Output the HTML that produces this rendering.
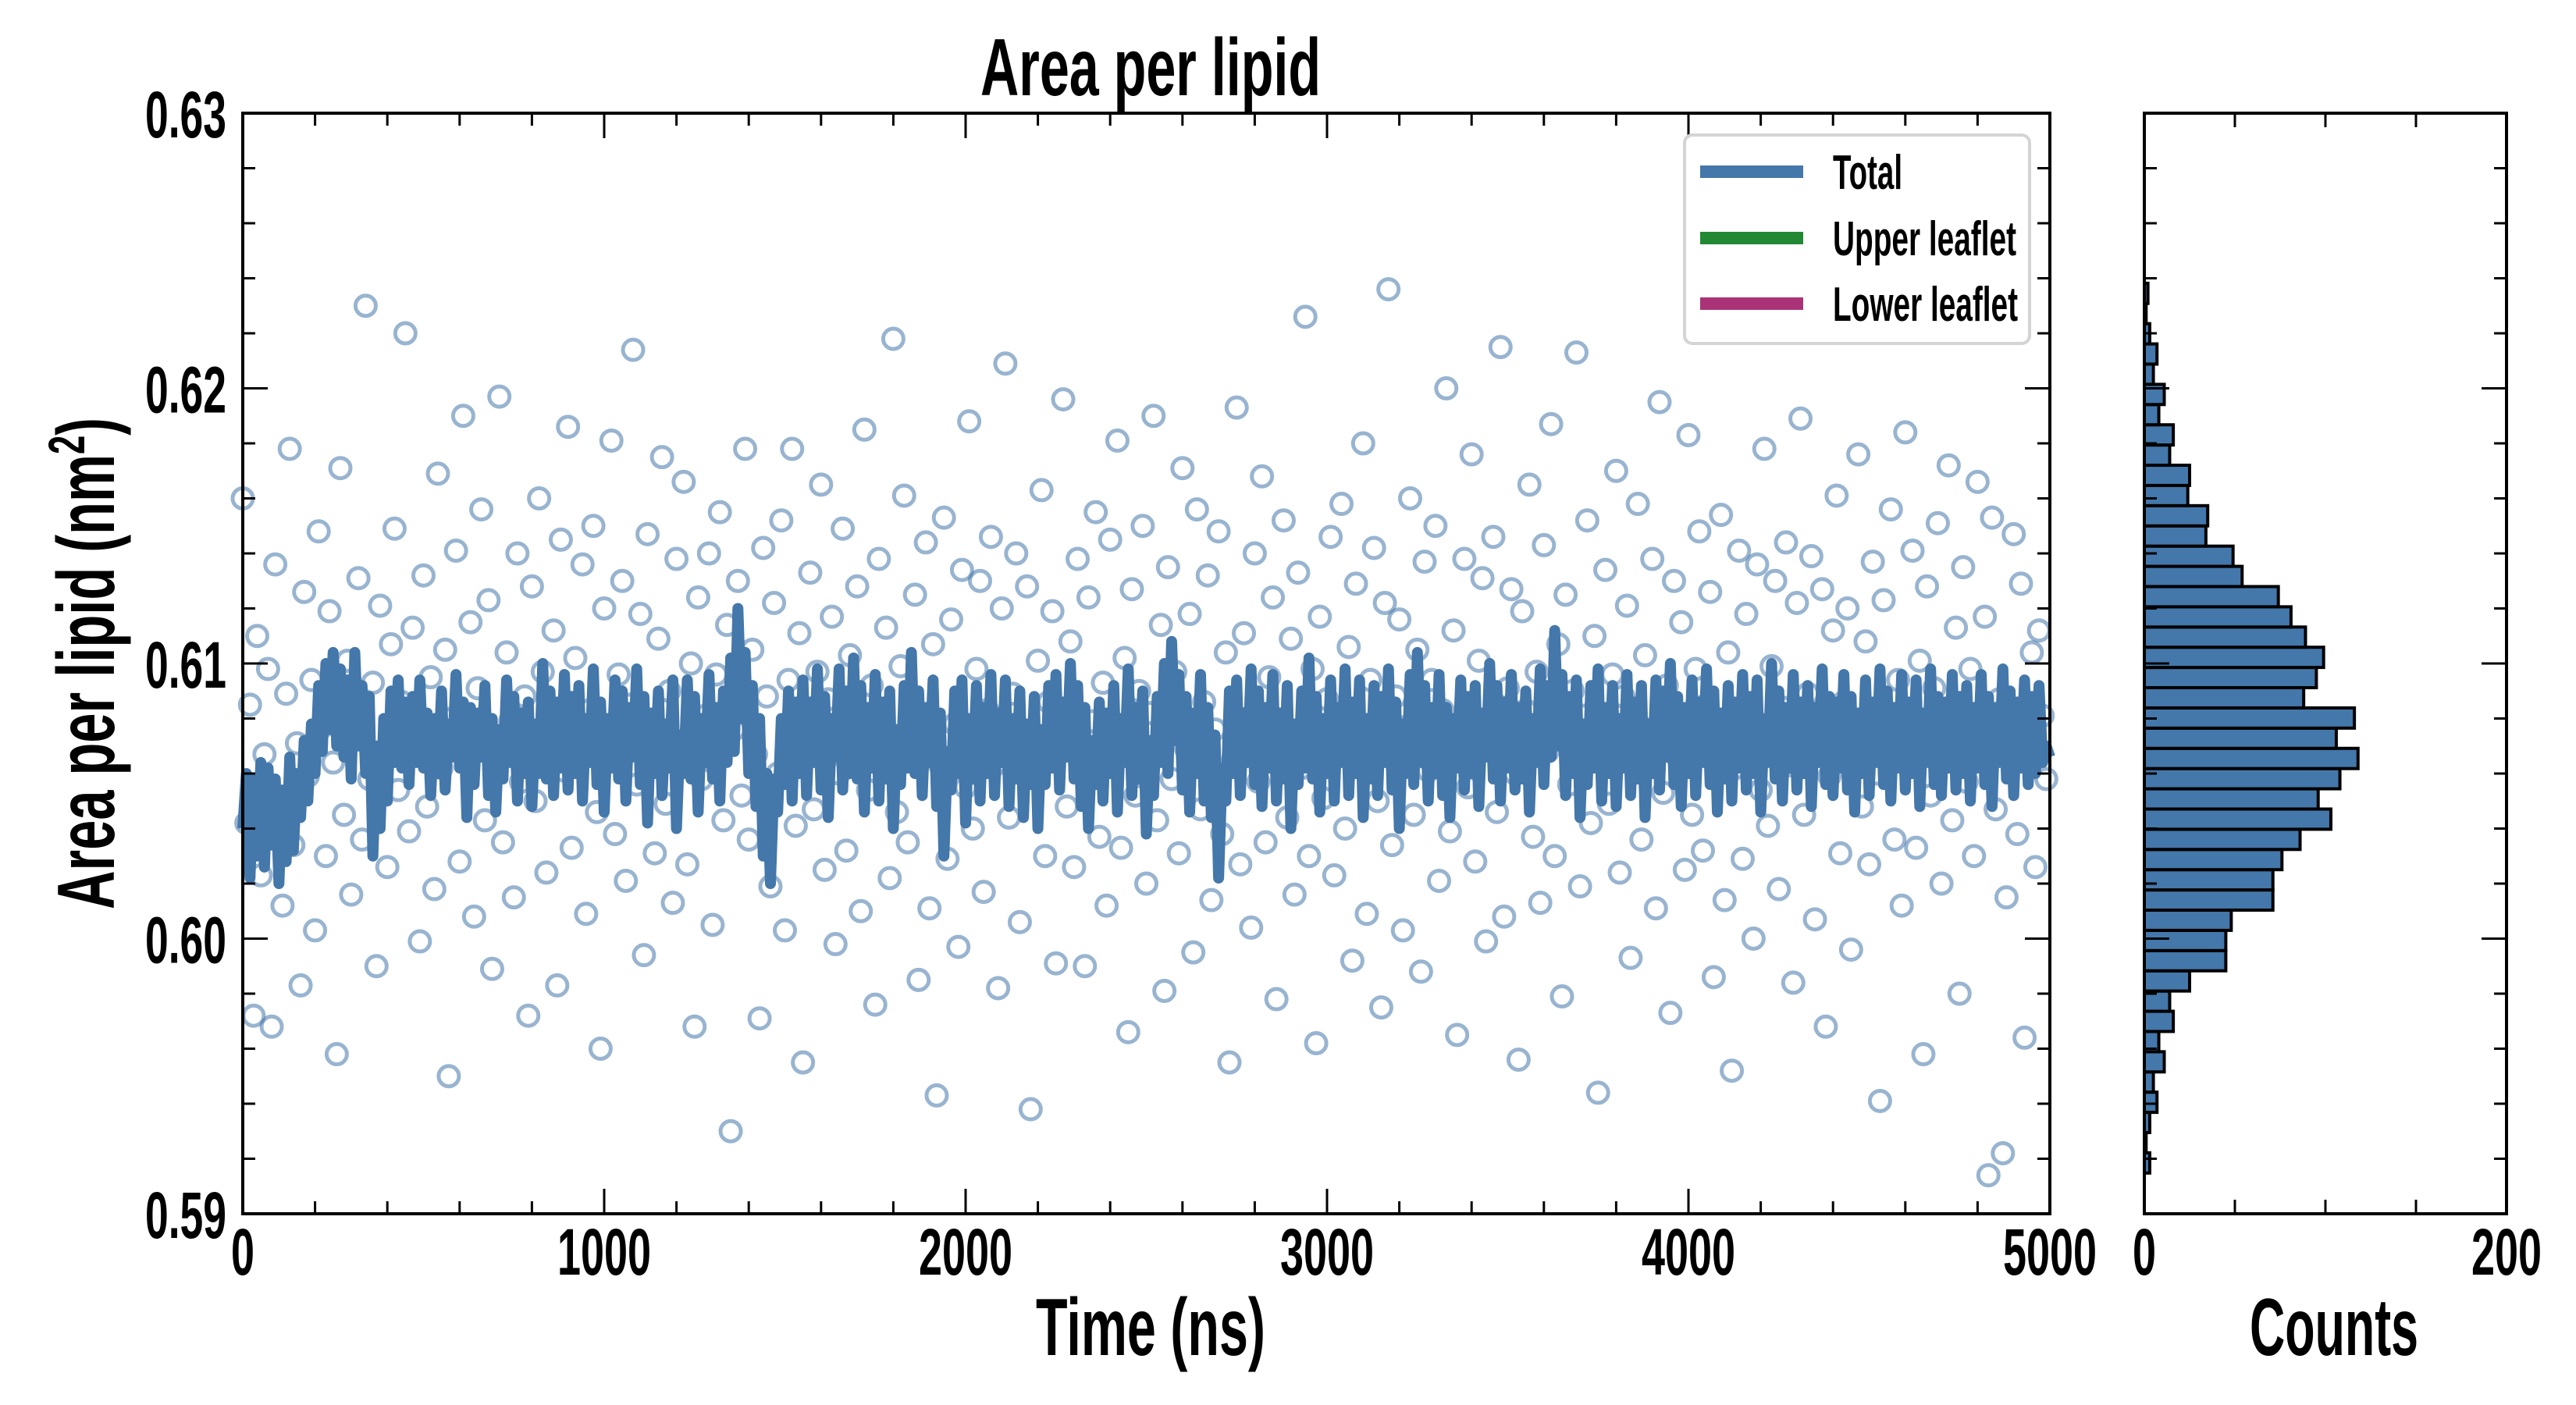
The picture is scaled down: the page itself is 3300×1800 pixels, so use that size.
<!DOCTYPE html>
<html><head><meta charset="utf-8"><title>Area per lipid</title>
<style>
html,body{margin:0;padding:0;background:#fff;}
svg{display:block;}
text{font-family:"Liberation Sans",sans-serif;font-weight:bold;fill:#000;}
</style></head>
<body>
<svg id="chart" width="3300" height="1800" viewBox="0 0 3300 1800" xmlns="http://www.w3.org/2000/svg">
<rect width="3300" height="1800" fill="#fff"/>
<g id="main-scatter"></g>
<g id="main-line"></g>
<g id="hist-bars"></g>
<g id="axes"></g>
<g id="legend">
  <rect x="2158" y="173" width="442" height="267" rx="10" fill="#fff" fill-opacity="0.85" stroke="#d4d4d4" stroke-width="4"/>
  <line x1="2178" y1="220" x2="2310" y2="220" stroke="#4477aa" stroke-width="16"/>
  <text x="2348" y="242" font-size="62" textLength="89" lengthAdjust="spacingAndGlyphs">Total</text>
  <line x1="2178" y1="305" x2="2310" y2="305" stroke="#228833" stroke-width="16"/>
  <text x="2348" y="327" font-size="62" textLength="235" lengthAdjust="spacingAndGlyphs">Upper leaflet</text>
  <line x1="2178" y1="389" x2="2310" y2="389" stroke="#aa3377" stroke-width="16"/>
  <text x="2348" y="411" font-size="62" textLength="237" lengthAdjust="spacingAndGlyphs">Lower leaflet</text>
</g>
<text x="1474" y="122" text-anchor="middle" font-size="104" textLength="436" lengthAdjust="spacingAndGlyphs">Area per lipid</text>
<text x="1474" y="1736" text-anchor="middle" font-size="104" textLength="294" lengthAdjust="spacingAndGlyphs">Time (ns)</text>
<text x="2990" y="1736" text-anchor="middle" font-size="104" textLength="216" lengthAdjust="spacingAndGlyphs">Counts</text>
<text transform="translate(146,850) rotate(-90)" text-anchor="middle" font-size="104" textLength="630" lengthAdjust="spacingAndGlyphs">Area per lipid (nm<tspan font-size="66" dy="-38">2</tspan><tspan dy="38">)</tspan></text>
</svg>
<script>
// ---- data ----
const xDomain = [0, 5000];
const yDomain = [0.59, 0.63];
const countDomain = [0, 200];
const xTickValues = [0, 1000, 2000, 3000, 4000, 5000];
const xTickLabels = ["0", "1000", "2000", "3000", "4000", "5000"];
const yTickValues = [0.59, 0.60, 0.61, 0.62, 0.63];
const yTickLabels = ["0.59", "0.60", "0.61", "0.62", "0.63"];
const countTickValues = [0, 50, 100, 150, 200];
const countTickLabels = ["0", "", "", "", "200"];
const lineStepNs = 10;
const totalLine = [
0.6040,0.6060,0.6022,0.6058,0.6030,0.6064,0.6026,0.6062,0.6034,0.6058,0.6020,0.6054,0.6028,0.6066,0.6032,0.6060,0.6044,0.6072,0.6050,0.6078,
0.6060,0.6092,0.6068,0.6100,0.6076,0.6104,0.6070,0.6098,0.6066,0.6094,0.6058,0.6104,0.6070,0.6092,0.6060,0.6088,0.6030,0.6070,0.6040,0.6080,
0.6050,0.6090,0.6064,0.6094,0.6062,0.6086,0.6056,0.6088,0.6064,0.6094,0.6062,0.6082,0.6052,0.6080,0.6060,0.6090,0.6054,0.6078,0.6066,0.6096,
0.6062,0.6086,0.6044,0.6084,0.6056,0.6082,0.6066,0.6092,0.6052,0.6080,0.6046,0.6076,0.6058,0.6094,0.6064,0.6088,0.6050,0.6082,0.6060,0.6086,
0.6048,0.6078,0.6060,0.6100,0.6058,0.6090,0.6052,0.6086,0.6062,0.6096,0.6054,0.6088,0.6060,0.6092,0.6050,0.6080,0.6064,0.6098,0.6056,0.6086,
0.6046,0.6080,0.6062,0.6094,0.6058,0.6090,0.6050,0.6084,0.6066,0.6098,0.6056,0.6088,0.6042,0.6082,0.6060,0.6090,0.6052,0.6078,0.6062,0.6094,
0.6040,0.6074,0.6060,0.6094,0.6058,0.6088,0.6046,0.6080,0.6064,0.6096,0.6058,0.6084,0.6050,0.6090,0.6064,0.6102,0.6068,0.6120,0.6080,0.6104,
0.6060,0.6092,0.6048,0.6080,0.6030,0.6060,0.6020,0.6058,0.6046,0.6080,0.6056,0.6090,0.6050,0.6086,0.6060,0.6094,0.6052,0.6086,0.6064,0.6098,
0.6054,0.6088,0.6044,0.6080,0.6066,0.6098,0.6054,0.6090,0.6060,0.6102,0.6058,0.6092,0.6046,0.6084,0.6062,0.6096,0.6050,0.6086,0.6058,0.6090,
0.6040,0.6076,0.6056,0.6092,0.6062,0.6104,0.6060,0.6090,0.6052,0.6084,0.6064,0.6094,0.6048,0.6082,0.6030,0.6068,0.6054,0.6090,0.6060,0.6094,
0.6042,0.6080,0.6058,0.6092,0.6050,0.6084,0.6060,0.6096,0.6052,0.6082,0.6064,0.6094,0.6048,0.6080,0.6058,0.6090,0.6044,0.6078,0.6056,0.6088,
0.6040,0.6076,0.6056,0.6092,0.6062,0.6096,0.6054,0.6086,0.6066,0.6100,0.6058,0.6092,0.6048,0.6084,0.6040,0.6072,0.6056,0.6086,0.6050,0.6082,
0.6060,0.6092,0.6046,0.6080,0.6064,0.6098,0.6052,0.6084,0.6058,0.6090,0.6038,0.6072,0.6052,0.6088,0.6064,0.6100,0.6060,0.6108,0.6072,0.6096,
0.6054,0.6088,0.6046,0.6082,0.6060,0.6096,0.6050,0.6084,0.6044,0.6074,0.6022,0.6062,0.6050,0.6090,0.6060,0.6094,0.6052,0.6082,0.6064,0.6098,
0.6056,0.6090,0.6048,0.6084,0.6062,0.6096,0.6050,0.6082,0.6058,0.6092,0.6040,0.6078,0.6056,0.6090,0.6062,0.6102,0.6058,0.6088,0.6046,0.6080,
0.6060,0.6094,0.6050,0.6084,0.6064,0.6098,0.6052,0.6086,0.6060,0.6094,0.6044,0.6080,0.6058,0.6092,0.6052,0.6088,0.6064,0.6098,0.6054,0.6086,
0.6040,0.6078,0.6060,0.6096,0.6056,0.6104,0.6064,0.6092,0.6050,0.6084,0.6060,0.6096,0.6052,0.6084,0.6044,0.6080,0.6062,0.6094,0.6054,0.6088,
0.6060,0.6092,0.6048,0.6082,0.6066,0.6100,0.6058,0.6092,0.6050,0.6086,0.6062,0.6096,0.6054,0.6084,0.6058,0.6090,0.6046,0.6080,0.6064,0.6098,
0.6056,0.6092,0.6066,0.6112,0.6070,0.6096,0.6052,0.6088,0.6060,0.6094,0.6044,0.6078,0.6056,0.6092,0.6062,0.6098,0.6050,0.6084,0.6060,0.6092,
0.6048,0.6080,0.6062,0.6096,0.6052,0.6086,0.6058,0.6092,0.6044,0.6078,0.6060,0.6094,0.6054,0.6090,0.6066,0.6100,0.6056,0.6088,0.6048,0.6084,
0.6060,0.6094,0.6052,0.6086,0.6064,0.6098,0.6056,0.6090,0.6046,0.6082,0.6058,0.6092,0.6050,0.6086,0.6062,0.6096,0.6054,0.6088,0.6060,0.6094,
0.6046,0.6080,0.6064,0.6100,0.6058,0.6090,0.6050,0.6084,0.6062,0.6096,0.6054,0.6086,0.6060,0.6092,0.6048,0.6084,0.6064,0.6098,0.6056,0.6088,
0.6052,0.6086,0.6062,0.6096,0.6054,0.6088,0.6046,0.6082,0.6060,0.6094,0.6052,0.6086,0.6064,0.6098,0.6056,0.6090,0.6050,0.6084,0.6062,0.6096,
0.6054,0.6086,0.6060,0.6094,0.6048,0.6082,0.6064,0.6098,0.6056,0.6088,0.6052,0.6086,0.6062,0.6096,0.6054,0.6088,0.6060,0.6092,0.6050,0.6084,
0.6062,0.6096,0.6056,0.6088,0.6048,0.6084,0.6064,0.6098,0.6058,0.6090,0.6052,0.6086,0.6062,0.6094,0.6056,0.6088,0.6060,0.6092,0.6064,0.6070,0.6066
];
const scatterValues = [
0.6160,0.6042,0.6085,0.5972,0.6110,0.6023,0.6067,0.6098,0.5968,0.6136,0.6051,0.6012,0.6089,0.6178,0.6034,0.6071,0.5983,0.6126,0.6059,0.6094,
0.6003,0.6148,0.6077,0.6030,0.6119,0.6064,0.5958,0.6171,0.6045,0.6101,0.6016,0.6082,0.6131,0.6036,0.6230,0.6058,0.6093,0.5990,0.6121,0.6068,
0.6026,0.6107,0.6149,0.6054,0.6086,0.6220,0.6039,0.6113,0.6074,0.5999,0.6132,0.6048,0.6095,0.6018,0.6169,0.6062,0.6105,0.5950,0.6080,0.6141,
0.6028,0.6190,0.6072,0.6115,0.6008,0.6091,0.6156,0.6043,0.6123,0.5989,0.6066,0.6197,0.6035,0.6104,0.6079,0.6015,0.6140,0.6057,0.6088,0.5972,
0.6128,0.6050,0.6160,0.6097,0.6024,0.6075,0.6112,0.5983,0.6145,0.6061,0.6186,0.6033,0.6102,0.6069,0.6136,0.6009,0.6083,0.6150,0.6046,0.5960,
0.6120,0.6073,0.6181,0.6038,0.6096,0.6130,0.6021,0.6085,0.6214,0.6056,0.6118,0.5994,0.6147,0.6064,0.6031,0.6109,0.6175,0.6049,0.6090,0.6013,
0.6138,0.6070,0.6166,0.6027,0.6100,0.5968,0.6124,0.6058,0.6081,0.6140,0.6005,0.6096,0.6155,0.6043,0.6114,0.5930,0.6076,0.6130,0.6052,0.6178,
0.6036,0.6105,0.6067,0.5971,0.6142,0.6088,0.6019,0.6122,0.6060,0.6152,0.6003,0.6094,0.6178,0.6041,0.6111,0.5955,0.6079,0.6133,0.6047,0.6097,
0.6165,0.6025,0.6087,0.6117,0.5998,0.6060,0.6149,0.6032,0.6103,0.6073,0.6128,0.6010,0.6185,0.6054,0.6092,0.5976,0.6138,0.6068,0.6113,0.6022,
0.6218,0.6046,0.6099,0.6161,0.6035,0.6084,0.6125,0.5985,0.6071,0.6144,0.6011,0.6107,0.5943,0.6063,0.6153,0.6029,0.6116,0.6078,0.5997,0.6134,
0.6055,0.6188,0.6040,0.6098,0.6130,0.6017,0.6083,0.6146,0.6063,0.5982,0.6120,0.6209,0.6044,0.6089,0.6140,0.6006,0.6075,0.6128,0.5938,0.6059,
0.6101,0.6163,0.6030,0.6086,0.6119,0.5991,0.6070,0.6196,0.6048,0.6108,0.6026,0.6138,0.6061,0.5990,0.6124,0.6079,0.6155,0.6037,0.6093,0.6012,
0.6145,0.6066,0.6181,0.6033,0.6102,0.5966,0.6127,0.6052,0.6090,0.6150,0.6020,0.6082,0.6190,0.6043,0.6114,0.5981,0.6135,0.6058,0.6097,0.6031,
0.6171,0.6069,0.6118,0.5995,0.6156,0.6047,0.6086,0.6132,0.6014,0.6076,0.6148,0.6038,0.6104,0.5955,0.6065,0.6193,0.6027,0.6111,0.6080,0.6004,
0.6140,0.6057,0.6168,0.6035,0.6095,0.6124,0.5978,0.6072,0.6152,0.6044,0.6109,0.6016,0.6133,0.6062,0.6226,0.6030,0.6098,0.5962,0.6117,0.6051,
0.6087,0.6146,0.6023,0.6079,0.6158,0.6040,0.6106,0.5992,0.6129,0.6067,0.6180,0.6009,0.6094,0.6142,0.6050,0.5975,0.6122,0.6236,0.6034,0.6088,
0.6116,0.6003,0.6077,0.6160,0.6045,0.6105,0.5988,0.6137,0.6061,0.6094,0.6150,0.6021,0.6083,0.6200,0.6039,0.6112,0.5965,0.6070,0.6138,0.6055,
0.6176,0.6028,0.6101,0.6131,0.5999,0.6074,0.6146,0.6046,0.6215,0.6008,0.6091,0.6127,0.6060,0.5956,0.6119,0.6083,0.6165,0.6037,0.6097,0.6013,
0.6143,0.6068,0.6187,0.6030,0.6107,0.5979,0.6125,0.6056,0.6090,0.6213,0.6019,0.6081,0.6152,0.6042,0.6110,0.5944,0.6073,0.6134,0.6049,0.6096,
0.6170,0.6024,0.6088,0.6121,0.5993,0.6064,0.6158,0.6036,0.6103,0.6076,0.6138,0.6011,0.6195,0.6053,0.6092,0.5973,0.6130,0.6066,0.6115,0.6025,
0.6183,0.6045,0.6098,0.6148,0.6032,0.6085,0.6126,0.5986,0.6071,0.6154,0.6014,0.6104,0.5952,0.6062,0.6141,0.6029,0.6118,0.6079,0.6000,0.6136,
0.6054,0.6178,0.6041,0.6099,0.6130,0.6018,0.6084,0.6144,0.6063,0.5984,0.6122,0.6189,0.6045,0.6089,0.6139,0.6007,0.6074,0.6127,0.5968,0.6059,
0.6112,0.6161,0.6031,0.6086,0.6120,0.5996,0.6069,0.6176,0.6048,0.6108,0.6027,0.6137,0.6060,0.5941,0.6123,0.6078,0.6156,0.6036,0.6094,0.6012,
0.6184,0.6065,0.6141,0.6033,0.6101,0.5958,0.6128,0.6052,0.6091,0.6151,0.6020,0.6082,0.6172,0.6043,0.6113,0.5980,0.6135,0.6057,0.6098,0.6030,
0.6166,0.6070,0.6117,0.5914,0.6153,0.6047,0.6087,0.5922,0.6015,0.6076,0.6147,0.6038,0.6129,0.5964,0.6066,0.6104,0.6026,0.6112,0.6081,0.6058
];
const histBinStart = 0.59148;
const histBinWidth = 0.000735;
const histCounts = [2,1,3,7,5,11,8,16,14,25,24,35,34,49,54,74,81,89,99,95,88,116,106,118,108,96,103,86,76,71,71,48,45,45,25,14,16,8,11,5,7,3,1,3].reverse();

// ---- layout ----
const SVGNS = "http://www.w3.org/2000/svg";
const main = {x0: 311, x1: 2626, y0: 145, y1: 1555};
const hist = {x0: 2747, x1: 3211};
const xScale = v => main.x0 + (v - xDomain[0]) / (xDomain[1] - xDomain[0]) * (main.x1 - main.x0);
const yScale = v => main.y1 - (v - yDomain[0]) / (yDomain[1] - yDomain[0]) * (main.y1 - main.y0);
const cScale = v => hist.x0 + (v - countDomain[0]) / (countDomain[1] - countDomain[0]) * (hist.x1 - hist.x0);
function mk(tag, attrs, parent) {
  const el = document.createElementNS(SVGNS, tag);
  for (const k in attrs) el.setAttribute(k, attrs[k]);
  parent.appendChild(el);
  return el;
}

// scatter
const gS = document.getElementById("main-scatter");
scatterValues.forEach((v, i) => {
  const t = i * (xDomain[1] - 10) / (scatterValues.length - 1);
  const c = mk("circle", {cx: xScale(t), cy: yScale(v), r: 13, fill: "none", stroke: "#4477aa", "stroke-opacity": 0.55, "stroke-width": 5}, gS);
  
  
});

// line
const gL = document.getElementById("main-line");
const pts = totalLine.map((v, i) => xScale(Math.min(i * lineStepNs, xDomain[1])) + "," + yScale(v)).join(" ");
const pl = mk("polyline", {points: pts, fill: "none", stroke: "#4477aa", "stroke-width": 14, "stroke-linejoin": "round"}, gL);



// histogram (counts listed from bottom bin upward after reverse)
const gH = document.getElementById("hist-bars");
histCounts.forEach((c, i) => {
  const lo = histBinStart + i * histBinWidth, hi = lo + histBinWidth;
  const y = yScale(hi), h = yScale(lo) - yScale(hi);
  const r = mk("rect", {x: cScale(0), y: y, width: Math.max(cScale(c) - cScale(0), 0), height: h, fill: "#4477aa", stroke: "#000", "stroke-width": 4}, gH);
  
  
});

// axes
const gA = document.getElementById("axes");
function frame(x0, x1, name) {
  const r = mk("rect", {x: x0, y: main.y0, width: x1 - x0, height: main.y1 - main.y0, fill: "none", stroke: "#000", "stroke-width": 4}, gA);
  
  
}
frame(main.x0, main.x1, 'main-plot-frame');
frame(hist.x0, hist.x1, 'histogram-frame');
function tick(x1, y1, x2, y2) {
  const l = mk("line", {x1: x1, y1: y1, x2: x2, y2: y2, stroke: "#000", "stroke-width": 3}, gA);
  
  
}
for (let t = xDomain[0]; t <= xDomain[1]; t += 200) {
  const major = t % 1000 === 0, L = major ? 32 : 16, x = xScale(t);
  tick(x, main.y1, x, main.y1 - L); tick(x, main.y0, x, main.y0 + L);
}
xTickValues.forEach((v, i) => {
  const tx = mk("text", {x: xScale(v), y: 1633, "text-anchor": "middle", "font-size": 84, textLength: xTickLabels[i].length * 30, lengthAdjust: "spacingAndGlyphs"}, gA);
  tx.textContent = xTickLabels[i];
  
  
});
for (let k = 0; k <= 20; k++) {
  const v = yDomain[0] + k * 0.002, y = yScale(v), major = k % 5 === 0, L = major ? 32 : 16;
  tick(main.x0, y, main.x0 + L, y); tick(main.x1, y, main.x1 - L, y);
  tick(hist.x0, y, hist.x0 + L, y); tick(hist.x1, y, hist.x1 - L, y);
}
yTickValues.forEach((v, i) => {
  const tx = mk("text", {x: 290, y: yScale(v) + 31, "text-anchor": "end", "font-size": 84, textLength: 104, lengthAdjust: "spacingAndGlyphs"}, gA);
  tx.textContent = yTickLabels[i];
  
  
});
countTickValues.forEach((v, i) => {
  const x = cScale(v);
  tick(x, main.y1, x, main.y1 - 18); tick(x, main.y0, x, main.y0 + 18);
  if (countTickLabels[i]) {
    const tx = mk("text", {x: x, y: 1633, "text-anchor": "middle", "font-size": 84, textLength: countTickLabels[i].length * 30, lengthAdjust: "spacingAndGlyphs"}, gA);
    tx.textContent = countTickLabels[i];
    
    
  }
});
</script>
</body></html>
